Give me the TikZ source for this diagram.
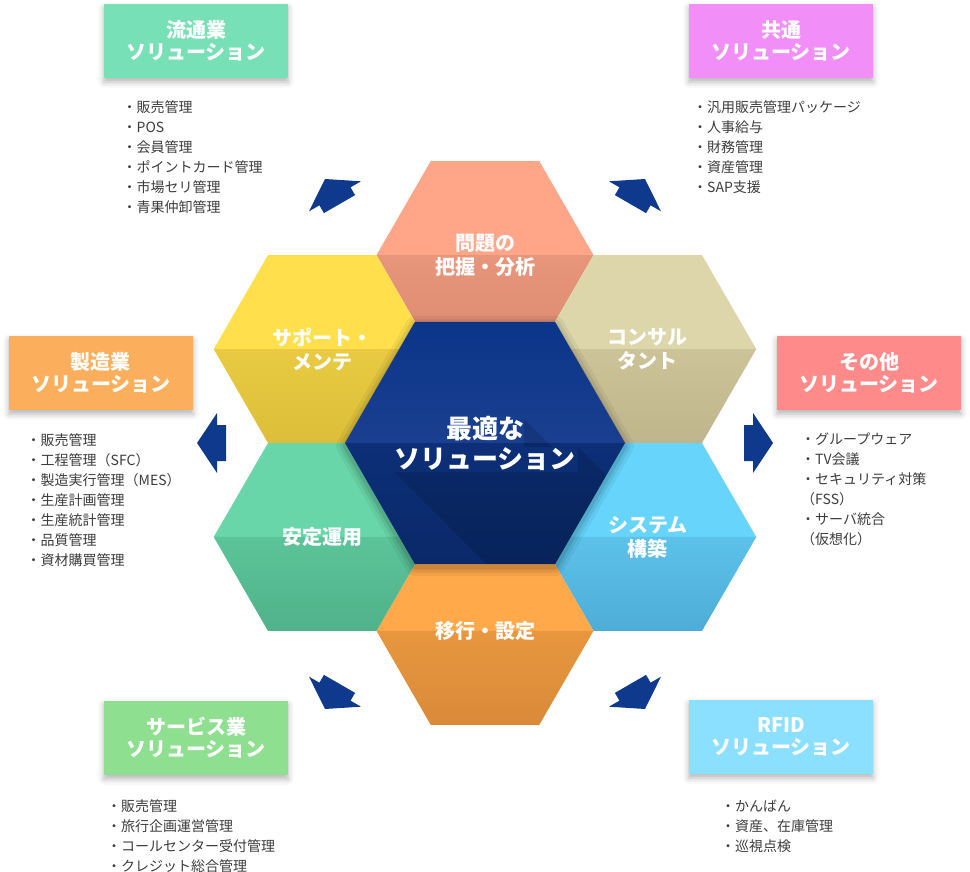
\documentclass[tikz,border=0pt]{standalone}
\usepackage{fontspec}
\setmainfont{Noto Sans CJK JP}
\usetikzlibrary{shadows.blur}

% hexagon colours: A = upper half, B/C = lower half (top/bottom)
\definecolor{probA}{HTML}{FFA688}\definecolor{probB}{HTML}{E8967B}\definecolor{probC}{HTML}{DC8A70}
\definecolor{consA}{HTML}{DDD6AA}\definecolor{consB}{HTML}{CDC398}\definecolor{consC}{HTML}{BFB58C}
\definecolor{sysA}{HTML}{66D4FB}\definecolor{sysB}{HTML}{5CC2EA}\definecolor{sysC}{HTML}{4EADD6}
\definecolor{moveA}{HTML}{FFA94B}\definecolor{moveB}{HTML}{E8973F}\definecolor{moveC}{HTML}{DA8A38}
\definecolor{stabA}{HTML}{69D6A9}\definecolor{stabB}{HTML}{5CC499}\definecolor{stabC}{HTML}{50B28A}
\definecolor{suppA}{HTML}{FFE04C}\definecolor{suppB}{HTML}{E9CA42}\definecolor{suppC}{HTML}{DCBE3A}
\definecolor{coreA}{HTML}{0B3589}\definecolor{coreB}{HTML}{1A3F90}
\definecolor{coreC}{HTML}{0C2F78}\definecolor{coreD}{HTML}{0A2969}
% solution boxes
\definecolor{boxRyutsu}{HTML}{78E0B6}
\definecolor{boxKyotsu}{HTML}{F18EF7}
\definecolor{boxSeizo}{HTML}{FBAF5D}
\definecolor{boxSonota}{HTML}{FF8A8A}
\definecolor{boxService}{HTML}{8EDF90}
\definecolor{boxRfid}{HTML}{8CE0FF}
\definecolor{arrownavy}{HTML}{0E398C}
\definecolor{listgray}{HTML}{3C3C3C}

\begin{document}
\begin{tikzpicture}[
  x=1pt, y=-1pt,
  hexlabel/.style={text=white, font=\fontsize{20}{24}\selectfont\bfseries, align=center, inner sep=0pt},
  corelabel/.style={text=white, font=\fontsize{26}{30}\selectfont\bfseries, align=center, inner sep=0pt},
  solbox/.style={minimum width=184pt, minimum height=74pt, inner sep=0pt, text=white, align=center,
    font=\fontsize{20}{22}\selectfont\bfseries,
    blur shadow={shadow xshift=0pt, shadow yshift=-4pt, shadow blur radius=6pt, shadow opacity=30}},
  listitem/.style={anchor=base west, inner sep=0pt, text=listgray, font=\fontsize{14}{20}\selectfont},
  navyarrow/.style={fill=arrownavy}
]
\useasboundingbox (0,0) rectangle (970,872);

\def\cx{485}
\def\cy{443}
\def\hexR{108.5}
\def\hh{93.96}
\def\hexD{187.93}
\def\corepath{(-140,0) -- (-70,-121.24) -- (70,-121.24) -- (140,0) -- (70,121.24) -- (-70,121.24) -- cycle}

% --- outer ring of hexagons ---
\foreach \ang/\hid/\lbl in {90/prob/{問題の\\把握・分析}, 30/cons/{コンサル\\タント},
    -30/sys/{システム\\構築}, -90/move/{移行・設定}, -150/stab/{安定運用}, 150/supp/{サポート・\\メンテ}} {
  \begin{scope}[shift={({\cx+\hexD*cos(\ang)},{\cy-\hexD*sin(\ang)})}]
    \fill[fill=\hid A] (-\hexR,0) -- (-\hexR/2,-\hh) -- (\hexR/2,-\hh) -- (\hexR,0) -- cycle;
    \shade[top color=\hid B, bottom color=\hid C] (-\hexR,0) -- (\hexR,0) -- (\hexR/2,\hh) -- (-\hexR/2,\hh) -- cycle;
    \node[hexlabel] (hex-\hid) at (0,0) {\lbl};
  \end{scope}
}

% --- centre hexagon ---
\begin{scope}[shift={(\cx,\cy)}]
  \begin{scope}[shift={(0,3)}]
    \foreach \w/\o in {18/0.05, 11/0.07, 5/0.09}
      \draw[line width=\w pt, black, opacity=\o, line join=round] \corepath;
  \end{scope}
  \shade[top color=coreA, bottom color=coreB] (-140,0) -- (-70,-121.24) -- (70,-121.24) -- (140,0) -- cycle;
  \shade[top color=coreC, bottom color=coreD] (-140,0) -- (140,0) -- (70,121.24) -- (-70,121.24) -- cycle;
  % long shadow of the title
  \begin{scope}
    \clip \corepath;
    \fill[black, opacity=0.13] (-91,29) -- (93,29) -- (93,4) -- (293,204) -- (109,229) -- cycle;
    \fill[black, opacity=0.13] (39,-24) -- (67,4) -- (39,4) -- cycle;
  \end{scope}
  \node[corelabel] (core) at (0,0) {最適な\\ソリューション};
\end{scope}

% --- arrows pointing out to the solution boxes ---
\foreach \tx/\ty/\ang in {325/179/120, 645/179/60, 773/443/0, 645/709/-60, 325/709/-120, 197/443/180}
  \fill[navyarrow, shift={(\tx,\ty)}, rotate=\ang]
    (0,0) -- (-20,30) -- (-20,18) -- (-29,18) -- (-29,-18) -- (-20,-18) -- (-20,-30) -- cycle;

% --- solution boxes ---
\node[solbox, fill=boxRyutsu] (box-ryutsu) at (196,41) {流通業\\ソリューション};
\node[solbox, fill=boxKyotsu] (box-kyotsu) at (781,41) {共通\\ソリューション};
\node[solbox, fill=boxSeizo] (box-seizo) at (101,373) {製造業\\ソリューション};
\node[solbox, fill=boxSonota] (box-sonota) at (869,373) {その他\\ソリューション};
\node[solbox, fill=boxService] (box-service) at (196,738) {サービス業\\ソリューション};
\node[solbox, fill=boxRfid] (box-rfid) at (781,737) {RFID\\ソリューション};

% --- item lists ---
\foreach \t [count=\i] in {販売管理, POS, 会員管理, ポイントカード管理, 市場セリ管理, 青果仲卸管理}
  \node[listitem] (ryutsu-\i) at (122.5,93+20*\i) {・\t};
\foreach \t [count=\i] in {汎用販売管理パッケージ, 人事給与, 財務管理, 資産管理, SAP支援}
  \node[listitem] (kyotsu-\i) at (693,93+20*\i) {・\t};
\foreach \t [count=\i] in {販売管理, 工程管理（SFC）, 製造実行管理（MES）, 生産計画管理, 生産統計管理, 品質管理, 資材購買管理}
  \node[listitem] (seizo-\i) at (26.5,425+20*\i) {・\t};
\foreach \t [count=\i] in {・グループウェア, ・TV会議, ・セキュリティ対策, （FSS）, ・サーバ統合, （仮想化）}
  \node[listitem] (sonota-\i) at (801,424+20*\i) {\t};
\foreach \t [count=\i] in {販売管理, 旅行企画運営管理, コールセンター受付管理, クレジット総合管理}
  \node[listitem] (service-\i) at (107,791+20*\i) {・\t};
\foreach \t [count=\i] in {かんばん, 資産、在庫管理, 巡視点検}
  \node[listitem] (rfid-\i) at (721,791+20*\i) {・\t};

\end{tikzpicture}
\end{document}
